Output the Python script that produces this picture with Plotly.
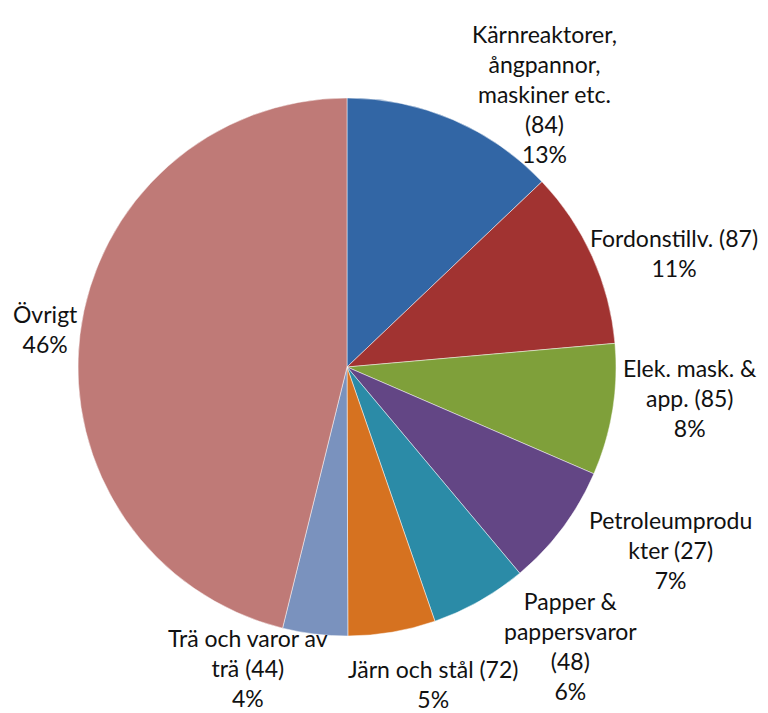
import plotly.graph_objects as go

categories = [
    "Kärnreaktorer,<br>ångpannor,<br>maskiner etc.<br>(84)",
    "Fordonstillv. (87)",
    "Elek. mask. &<br>app. (85)",
    "Petroleumprodu<br>kter (27)",
    "Papper &<br>pappersvaror<br>(48)",
    "Järn och stål (72)",
    "Trä och varor av<br>trä (44)",
    "Övrigt",
]
shares = [12.9, 10.7, 7.9, 7.4, 5.8, 5.25, 3.9, 46.15]
colors = ["#3266a5", "#a13331", "#7fa03a", "#634685", "#2b8ba7", "#d67220", "#7a92be", "#bf7a77"]

# label anchor positions (pixels in the 768x713 page)
label_pos = [(544, 94), (674, 253), (690, 398), (670, 550), (570, 646), (433, 684), (248, 668), (45, 329)]

W, H = 768, 713
total = sum(shares)
pct = [f"{round(v / total * 100)}%" for v in shares]

fig = go.Figure(go.Pie(
    labels=[c.replace("<br>", " ") for c in categories],
    values=shares,
    sort=False,
    direction="clockwise",
    rotation=0,
    marker=dict(colors=colors, line=dict(color="rgba(255,255,255,0.6)", width=0.8)),
    textinfo="none",
    hoverinfo="label+percent",
    showlegend=False,
    domain=dict(x=[78 / W, 616 / W], y=[(H - 636) / H, (H - 98) / H]),
))

for cat, p, (px, py) in zip(categories, pct, label_pos):
    fig.add_annotation(
        x=px / W, y=1 - py / H, xref="paper", yref="paper",
        text=f"{cat}<br>{p}", showarrow=False, align="center",
        xanchor="center", yanchor="middle",
        font=dict(family="Lato, sans-serif", size=23, color="#111111"),
    )

fig.update_layout(
    width=W, height=H,
    margin=dict(l=0, r=0, t=0, b=0),
    paper_bgcolor="white", plot_bgcolor="white",
)
fig.write_html(
    "out.html",
    config={"displayModeBar": False},
    post_script="document.body.style.margin='0';document.body.style.overflow='hidden';",
)
